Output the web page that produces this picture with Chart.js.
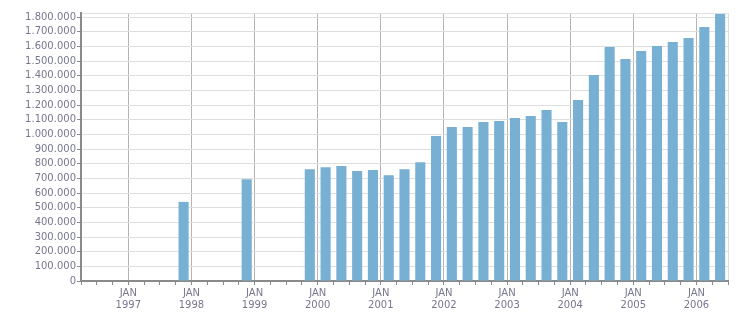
<!DOCTYPE html>
<html>
<head>
<meta charset="utf-8">
<script src="https://cdn.jsdelivr.net/npm/chart.js@4.4.1/dist/chart.umd.min.js"></script>
<style>
  html, body { margin: 0; padding: 0; background: #fff; }
  #wrap { width: 751px; height: 313px; position: relative; }
</style>
</head>
<body>
<div id="wrap"><canvas id="chart"></canvas></div>
<script>
// Quarters shown on the x axis (Q2 1996 .. Q2 2006)
const quarters = [
  'Q2 1996', 'Q3 1996', 'Q4 1996',
  'Q1 1997', 'Q2 1997', 'Q3 1997', 'Q4 1997',
  'Q1 1998', 'Q2 1998', 'Q3 1998', 'Q4 1998',
  'Q1 1999', 'Q2 1999', 'Q3 1999', 'Q4 1999',
  'Q1 2000', 'Q2 2000', 'Q3 2000', 'Q4 2000',
  'Q1 2001', 'Q2 2001', 'Q3 2001', 'Q4 2001',
  'Q1 2002', 'Q2 2002', 'Q3 2002', 'Q4 2002',
  'Q1 2003', 'Q2 2003', 'Q3 2003', 'Q4 2003',
  'Q1 2004', 'Q2 2004', 'Q3 2004', 'Q4 2004',
  'Q1 2005', 'Q2 2005', 'Q3 2005', 'Q4 2005',
  'Q1 2006', 'Q2 2006'
];

// Values per quarter (null = no bar)
const values = [
  null, null, null,
  null, null, null, 540000,
  null, null, null, 695000,
  null, null, null, 763000,
  777000, 784000, 750000, 757000,
  722000, 763000, 811000, 989000,
  1051000, 1051000, 1085000, 1092000,
  1112000, 1126000, 1167000, 1085000,
  1235000, 1406000, 1597000, 1515000,
  1570000, 1604000, 1631000, 1659000,
  1734000, 1823000
];

// Tick labels
const monthLabel = 'JAN';
const yTicks = [0, 100000, 200000, 300000, 400000, 500000, 600000, 700000, 800000, 900000,
  1000000, 1100000, 1200000, 1300000, 1400000, 1500000, 1600000, 1700000, 1800000];
const yMax = 1829000;

const textColor = '#77778f';
const axisColor = '#8a8a8a';

function formatNumber(v) {
  return String(v).replace(/\B(?=(\d{3})+(?!\d))/g, '.');
}

const ctx = document.getElementById('chart').getContext('2d');
new Chart(ctx, {
  type: 'bar',
  data: {
    labels: quarters,
    datasets: [{
      data: values,
      backgroundColor: '#78b0d3',
      borderWidth: 0,
      barPercentage: 0.64,
      categoryPercentage: 1.0
    }]
  },
  options: {
    responsive: true,
    maintainAspectRatio: false,
    animation: false,
    layout: { padding: { top: 13, right: 23, left: 0, bottom: 0 } },
    plugins: {
      legend: { display: false },
      tooltip: { enabled: false }
    },
    scales: {
      x: {
        offset: true,
        grid: {
          offset: true,
          lineWidth: 1,
          tickLength: 4,
          color: c => {
            if (c.type !== 'tick') return '#dedede';
            return quarters[c.index].startsWith('Q1') ? '#b4b4b4' : 'rgba(0,0,0,0)';
          },
          tickColor: axisColor
        },
        border: { color: axisColor, width: 2 },
        ticks: {
          autoSkip: false,
          maxRotation: 0,
          minRotation: 0,
          labelOffset: -7.9,
          padding: 2,
          color: textColor,
          font: { family: 'DejaVu Sans', size: 10, lineHeight: 1.25 },
          callback: (v, i) => quarters[i].startsWith('Q1') ? [monthLabel, quarters[i].slice(3)] : ''
        },
        afterFit: scale => { scale.height = 32; }
      },
      y: {
        min: 0,
        max: yMax,
        afterBuildTicks: scale => {
          scale.ticks = yTicks.map(v => ({ value: v })).concat([{ value: yMax }]);
        },
        grid: {
          color: '#dedede',
          lineWidth: 1,
          tickLength: 4,
          tickColor: c => (c.tick && c.tick.value === yMax) ? 'rgba(0,0,0,0)' : axisColor
        },
        border: { color: axisColor, width: 2 },
        ticks: {
          autoSkip: false,
          padding: 1,
          color: textColor,
          font: { family: 'DejaVu Sans', size: 10 },
          callback: v => (v % 100000 === 0) ? formatNumber(v) : ''
        },
        afterFit: scale => { scale.width = 81; }
      }
    }
  }
});
</script>
</body>
</html>
